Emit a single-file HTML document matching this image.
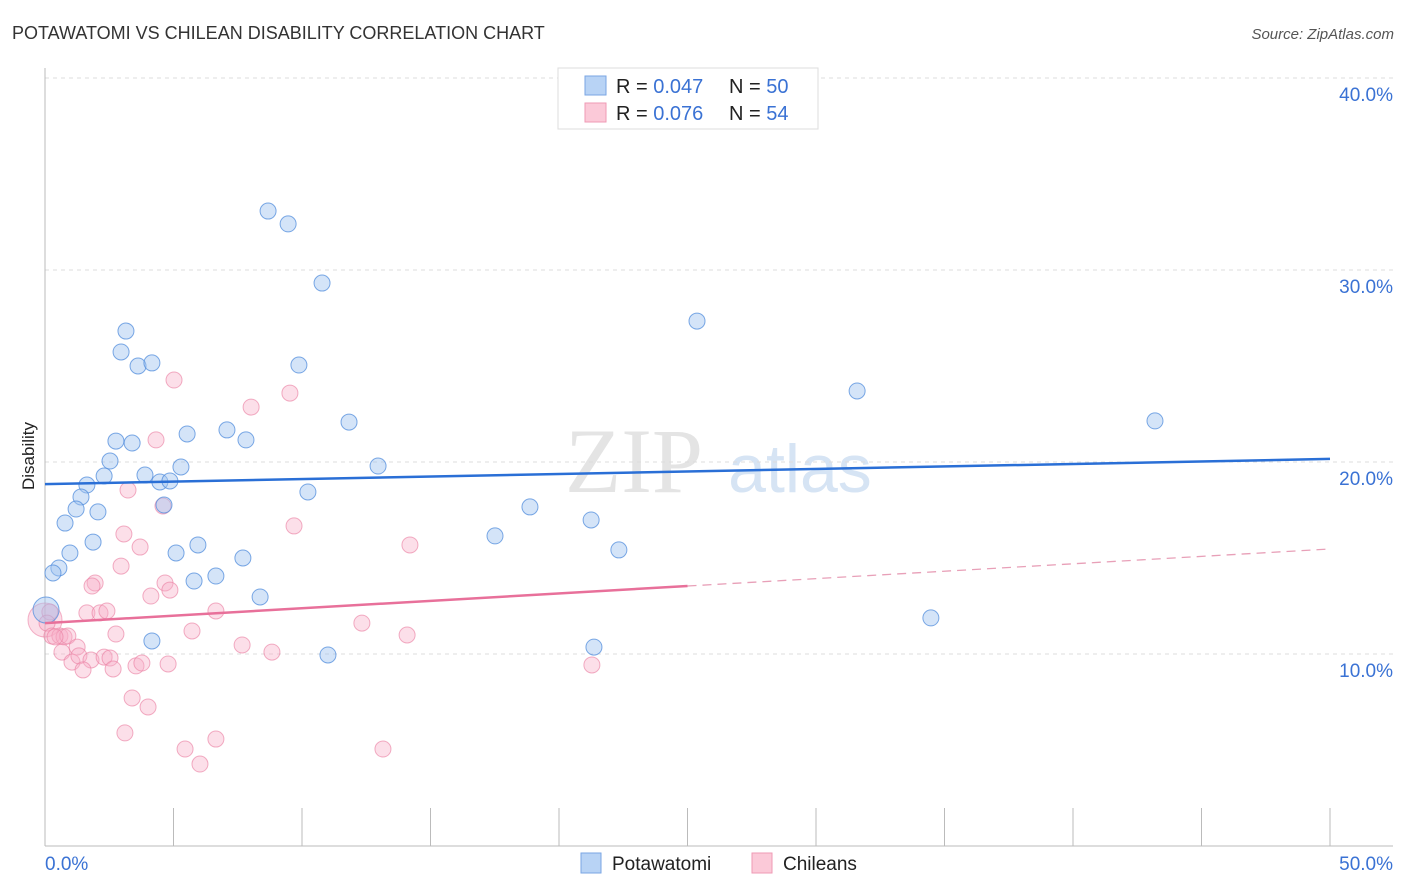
<!DOCTYPE html>
<html><head><meta charset="utf-8">
<style>
body{margin:0;background:#fff;font-family:"Liberation Sans",sans-serif;}
#wrap{position:relative;width:1406px;height:892px;overflow:hidden;}
</style></head>
<body><div id="wrap">
<svg id="svg" width="1406" height="892" xmlns="http://www.w3.org/2000/svg">
<text x="12" y="39" font-size="18" fill="#333">POTAWATOMI VS CHILEAN DISABILITY CORRELATION CHART</text>
<text x="1394" y="39" font-size="15" fill="#555" font-style="italic" text-anchor="end">Source: ZipAtlas.com</text>
<text x="634" y="492" font-size="92" fill="#e4e4e4" font-family="Liberation Serif,serif" text-anchor="middle">ZIP</text>
<text x="800" y="492" font-size="68" fill="#d6e4f4" text-anchor="middle">atlas</text>
<text x="34" y="456" font-size="17" fill="#222" text-anchor="middle" transform="rotate(-90 34 456)">Disability</text>
<g id="grid"></g><g id="pts"></g><g id="trend"></g>
<g>
<rect x="558" y="68" width="260" height="61" fill="#fff" stroke="#ddd"/>
<rect x="585" y="76" width="21" height="19" fill="#b8d3f5" stroke="#7aa6e3"/>
<rect x="585" y="103" width="21" height="19" fill="#fbc9d8" stroke="#ef9ab4"/>
<text x="616" y="93" font-size="20" fill="#222">R = <tspan fill="#3a72d4">0.047</tspan></text>
<text x="729" y="93" font-size="20" fill="#222">N = <tspan fill="#3a72d4">50</tspan></text>
<text x="616" y="120" font-size="20" fill="#222">R =  <tspan fill="#3a72d4">0.076</tspan></text>
<text x="729" y="120" font-size="20" fill="#222">N = <tspan fill="#3a72d4">54</tspan></text>
</g>
<g>
<rect x="581" y="853" width="20" height="20" fill="#b8d3f5" stroke="#7aa6e3"/>
<text x="612" y="870" font-size="19" fill="#222">Potawatomi</text>
<rect x="752" y="853" width="20" height="20" fill="#fbc9d8" stroke="#ef9ab4"/>
<text x="783" y="870" font-size="19" fill="#222">Chileans</text>
</g>
</svg>
<script>
const yTicks=[10,20,30,40];
const yTickLabels=["10.0%","20.0%","30.0%","40.0%"];
const xTickValues=[0,5,10,15,20,25,30,35,40,45,50];
const xEndLabels=["0.0%","50.0%"];
const blueX=[8.68,9.46,10.78,3.15,2.96,3.62,4.16,9.88,11.83,2.76,3.39,5.53,7.08,7.82,2.53,3.89,5.29,12.96,2.30,4.47,4.86,1.63,1.40,4.63,10.23,1.21,2.06,0.78,1.87,0.97,5.10,5.95,7.70,0.54,0.31,5.80,6.65,8.37,0.04,4.16,11.01,17.51,18.87,21.25,22.33,21.36,25.37,31.60,43.19,34.47];
const blueY=[33.07,32.40,29.32,26.82,25.73,25.0,25.16,25.05,22.08,21.09,20.99,21.46,21.67,21.15,20.05,19.32,19.74,19.79,19.27,18.96,19.01,18.80,18.18,17.76,18.44,17.55,17.40,16.82,15.83,15.26,15.26,15.68,15.0,14.48,14.22,13.80,14.06,12.97,12.29,10.68,9.95,16.15,17.66,16.98,15.42,10.36,27.34,23.70,22.14,11.88];
const pinkX=[5.02,8.02,9.53,4.32,3.23,4.59,3.07,3.70,9.69,14.20,2.96,1.95,1.83,4.67,4.86,4.12,1.63,2.14,2.41,6.65,12.33,0.19,0.08,0.27,0.58,0.74,0.89,2.76,5.72,1.25,0.66,1.05,1.32,1.79,2.30,2.53,1.48,2.65,3.54,3.77,4.79,7.67,8.83,14.09,21.28,3.39,4.01,3.11,5.45,6.03,6.65,13.15,0.39,0.0];
const pinkY=[24.27,22.86,23.59,21.15,18.54,17.71,16.25,15.57,16.67,15.68,14.58,13.70,13.54,13.70,13.33,13.02,12.14,12.14,12.24,12.24,11.61,12.19,11.61,10.94,10.94,10.89,10.94,11.04,11.20,10.36,10.10,9.58,9.90,9.69,9.84,9.79,9.17,9.22,9.38,9.53,9.48,10.47,10.10,10.99,9.43,7.71,7.24,5.89,5.05,4.27,5.57,5.05,10.89,11.77];
const blueTrend=[18.85,20.16];
const pinkTrend=[11.61,15.47];
const pinkSolidEnd=25;

const NS="http://www.w3.org/2000/svg";
const X0=45,X1=1330,Y0=846,PPY=19.2;
function sx(v){return X0+(X1-X0)*v/50;}
function sy(v){return Y0-PPY*v;}
function mk(tag,attrs,parent){const e=document.createElementNS(NS,tag);for(const k in attrs)e.setAttribute(k,attrs[k]);parent.appendChild(e);return e;}
const grid=document.getElementById('grid'),pts=document.getElementById('pts'),trend=document.getElementById('trend');
yTicks.forEach((t,i)=>{
 const l=mk('line',{x1:X0,x2:1393,y1:sy(t),y2:sy(t),stroke:'#ddd','stroke-dasharray':'4 4'},grid);
 
 
 const tx=mk('text',{x:1393,y:sy(t)+23,'font-size':19,fill:'#3a72d4','text-anchor':'end'},grid);
 tx.textContent=yTickLabels[i];
 
 
});
const ax=mk('line',{x1:X0,x2:X0,y1:68,y2:Y0,stroke:'#bbb'},grid);


const bx=mk('line',{x1:X0,x2:1393,y1:Y0,y2:Y0,stroke:'#bbb'},grid);


xTickValues.forEach(t=>{
 const l=mk('line',{x1:sx(t),x2:sx(t),y1:808,y2:Y0,stroke:'#bbb'},grid);
 
 
});
[[0,'start',45],[50,'end',1393]].forEach((d,i)=>{
 const tx=mk('text',{x:d[2],y:870,'font-size':19,fill:'#3a72d4','text-anchor':d[1]},grid);
 tx.textContent=xEndLabels[i];
 
 
});
// big origin bubbles
const bb=mk('circle',{cx:sx(pinkX[53]),cy:sy(pinkY[53]),r:17,fill:'rgba(245,160,190,0.35)',stroke:'rgba(235,130,165,0.6)'},pts);


for(let i=0;i<pinkX.length-1;i++){
 const c=mk('circle',{cx:sx(pinkX[i]),cy:sy(pinkY[i]),r:8,fill:'rgba(248,175,200,0.4)',stroke:'rgba(235,130,165,0.65)'},pts);
 
 
}
for(let i=0;i<blueX.length;i++){
 const big=i===38;
 const c=mk('circle',{cx:sx(blueX[i]),cy:sy(blueY[i]),r:big?13:8,fill:'rgba(160,195,240,0.45)',stroke:'rgba(80,140,220,0.75)'},pts);
 
 
}
const bl=mk('line',{x1:sx(0),y1:sy(blueTrend[0]),x2:sx(50),y2:sy(blueTrend[1]),stroke:'#2a6fd6','stroke-width':2.5},trend);


const pm=pinkTrend[0]+(pinkTrend[1]-pinkTrend[0])*pinkSolidEnd/50;
const pl=mk('line',{x1:sx(0),y1:sy(pinkTrend[0]),x2:sx(pinkSolidEnd),y2:sy(pm),stroke:'#e8709a','stroke-width':2.5},trend);


const pd=mk('line',{x1:sx(pinkSolidEnd),y1:sy(pm),x2:sx(50),y2:sy(pinkTrend[1]),stroke:'#e8a0b8','stroke-width':1.3,'stroke-dasharray':'9 6'},trend);


</script>
</div></body></html>
